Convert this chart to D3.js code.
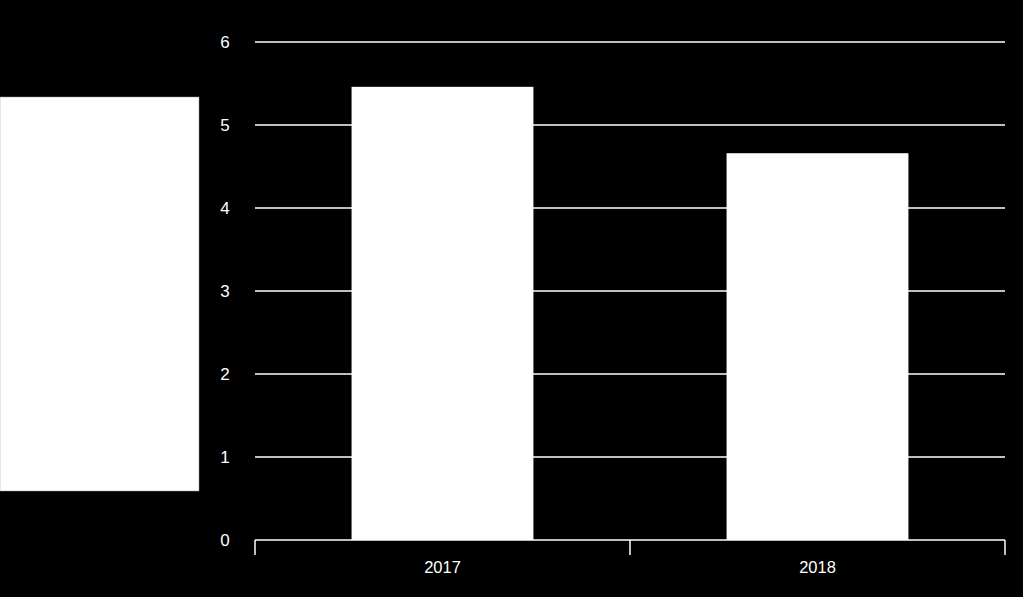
<!DOCTYPE html>
<html><head><meta charset="utf-8">
<script src="https://cdn.jsdelivr.net/npm/d3@7"></script>
<style>html,body{margin:0;padding:0;background:#000;}svg{display:block;}</style>
</head><body>
<svg id="c" width="1023" height="597"></svg>
<script>
const categories = ["2017", "2018"];
const values = [5.46, 4.66];
const yTicks = [0, 1, 2, 3, 4, 5, 6];

const svg = d3.select("#c");
svg.append("rect").attr("width", 1023).attr("height", 597).attr("fill", "#000");

// blank white panel on the left
svg.append("rect").attr("x", 0).attr("y", 97).attr("width", 199).attr("height", 394)
  .attr("fill", "#fff").attr("stroke", "#999").attr("stroke-width", 0.5);

const x0 = 255, x1 = 1005, yTop = 42, yBot = 540;
const y = d3.scaleLinear().domain([0, 6]).range([yBot, yTop]);
const xCat = d3.scaleBand().domain(categories).range([x0, x1]).padding(0);
const xBar = d3.scaleBand().domain(categories).range([x0, x1]).paddingInner(0.515).paddingOuter(0.2575);

// gridlines
svg.append("g").selectAll("line").data(yTicks.filter(d => d > 0)).join("line")
  .attr("x1", x0).attr("x2", x1)
  .attr("y1", d => y(d)).attr("y2", d => y(d))
  .attr("stroke", "#fff").attr("stroke-width", 1.5);

// y labels
svg.append("g").selectAll("text").data(yTicks).join("text")
  .attr("x", 225).attr("y", d => y(d)).attr("dy", "0.35em")
  .attr("text-anchor", "middle").attr("fill", "#fff")
  .attr("font-family", "Liberation Sans, Arial, sans-serif").attr("font-size", 17)
  .text(d => d);

// bars
svg.append("g").selectAll("rect").data(categories).join("rect")
  .attr("x", d => xBar(d)).attr("width", xBar.bandwidth())
  .attr("y", (d, i) => y(values[i])).attr("height", (d, i) => y(0) - y(values[i]))
  .attr("fill", "#fff");

// x axis
const ga = svg.append("g").attr("transform", `translate(0,${yBot})`);
ga.append("line").attr("x1", x0).attr("x2", x1).attr("y1", 0).attr("y2", 0)
  .attr("stroke", "#fff").attr("stroke-width", 1.5);
const bounds = [x0].concat(categories.map(c => xCat(c) + xCat.bandwidth()));
ga.selectAll("line.tk").data(bounds).join("line").attr("class", "tk")
  .attr("x1", d => d).attr("x2", d => d).attr("y1", 0).attr("y2", 15)
  .attr("stroke", "#fff").attr("stroke-width", 1.5);
ga.selectAll("text").data(categories).join("text")
  .attr("x", d => xCat(d) + xCat.bandwidth() / 2).attr("y", 33)
  .attr("text-anchor", "middle").attr("fill", "#fff")
  .attr("font-family", "Liberation Sans, Arial, sans-serif").attr("font-size", 16.5)
  .text(d => d);
</script>
</body></html>
